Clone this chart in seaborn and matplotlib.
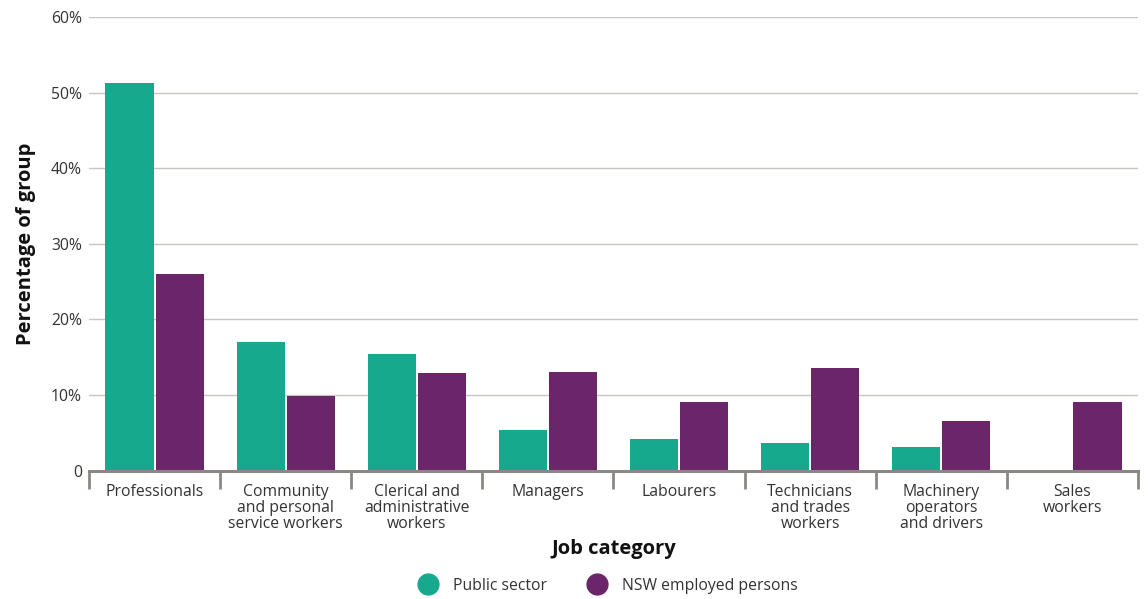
import matplotlib
matplotlib.use("Agg")
import matplotlib.pyplot as plt
from matplotlib.lines import Line2D
import numpy as np
import pandas as pd
import seaborn as sns

categories = [
    "Professionals",
    "Community\nand personal\nservice workers",
    "Clerical and\nadministrative\nworkers",
    "Managers",
    "Labourers",
    "Technicians\nand trades\nworkers",
    "Machinery\noperators\nand drivers",
    "Sales\nworkers",
]
public_sector = [51.3, 17.0, 15.4, 5.4, 4.2, 3.6, 3.1, 0.0]
nsw_employed = [26.0, 9.9, 12.9, 13.0, 9.1, 13.6, 6.5, 9.1]
series_names = ["Public sector", "NSW employed persons"]
y_ticks = [0, 10, 20, 30, 40, 50, 60]
y_tick_labels = ["0", "10%", "20%", "30%", "40%", "50%", "60%"]

TEAL = "#17a98e"
PURPLE = "#6b2669"
TEXT = "#333333"
GRID = "#c9c5c1"
AXIS = "#8c8782"

df = pd.DataFrame({
    "category": categories * 2,
    "value": public_sector + nsw_employed,
    "group": [series_names[0]] * len(categories) + [series_names[1]] * len(categories),
})

sns.set_theme(style="white")
plt.rcParams["font.family"] = ["Open Sans", "DejaVu Sans"]

fig = plt.figure(figsize=(11.48, 5.99), dpi=100)
ax = fig.add_axes([0.0775, 0.2145, 0.9138, 0.7571])

sns.barplot(
    data=df, x="category", y="value", hue="group",
    palette=[TEAL, PURPLE], width=0.765, gap=0.04,
    saturation=1, legend=False, ax=ax, zorder=3, linewidth=0,
)

ax.set_xlim(-0.5, len(categories) - 0.5)
ax.set_ylim(0, 60)
ax.set_yticks(y_ticks)
ax.set_yticklabels(y_tick_labels)
ax.yaxis.grid(True, color=GRID, linewidth=1.0, zorder=0)
ax.set_axisbelow(True)

for side in ["top", "right", "left"]:
    ax.spines[side].set_visible(False)
ax.spines["bottom"].set_color(AXIS)
ax.spines["bottom"].set_linewidth(2.2)
ax.spines["bottom"].set_zorder(5)

# category labels centred under each group, separators at the group boundaries
ax.set_xticks(np.arange(len(categories)))
ax.set_xticklabels(categories, linespacing=1.0)
ax.set_xticks(np.arange(len(categories) + 1) - 0.5, minor=True)
ax.tick_params(axis="x", which="major", bottom=False, length=0, pad=10,
               labelsize=11.3, labelcolor=TEXT)
ax.tick_params(axis="x", which="minor", bottom=True, length=13, width=2.0,
               color=AXIS, direction="out")
ax.tick_params(axis="y", length=0, pad=5, labelsize=11.3, labelcolor=TEXT)
for lbl in ax.get_xticklabels():
    lbl.set_verticalalignment("top")

ax.set_xlabel("Job category", fontsize=14.5, fontweight="bold", color="#111111", labelpad=5)
ax.set_ylabel("Percentage of group", fontsize=14.5, fontweight="bold", color="#111111", labelpad=11)

handles = [
    Line2D([], [], marker="o", linestyle="none", markersize=15,
           markerfacecolor=c, markeredgecolor=c)
    for c in (TEAL, PURPLE)
]
fig.legend(
    handles, series_names, loc="center", bbox_to_anchor=(0.527, 0.022),
    ncol=2, frameon=False, fontsize=11.3, handletextpad=0.6,
    columnspacing=2.2, labelcolor=TEXT,
)

fig.savefig("out.png", dpi=100)
